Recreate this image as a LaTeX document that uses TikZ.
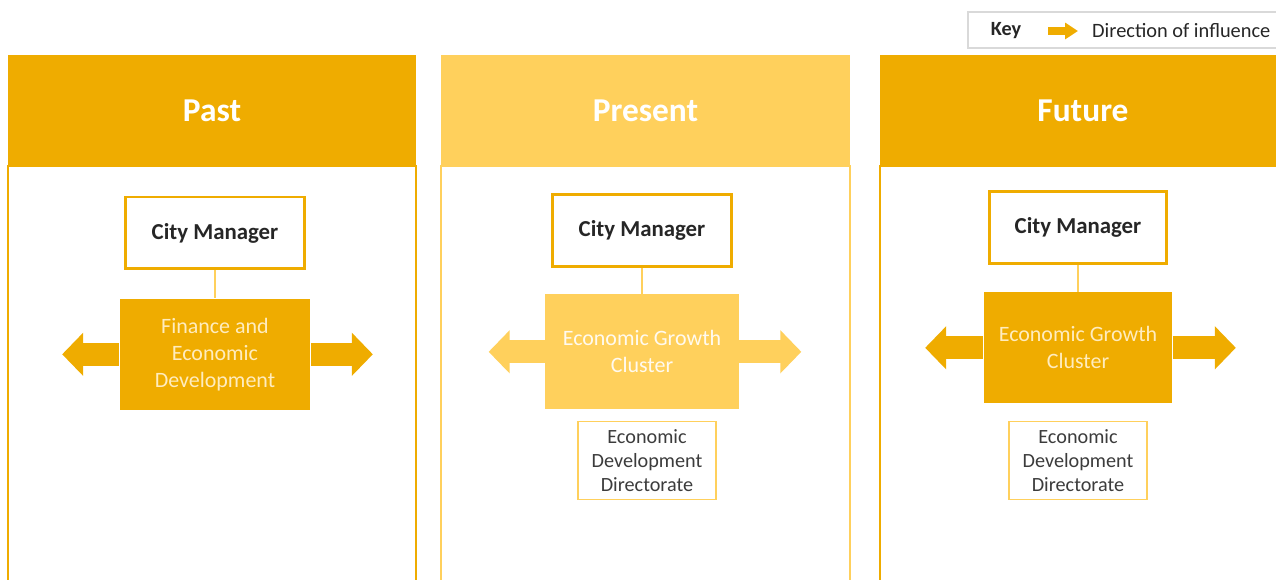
\documentclass[tikz,border=0pt]{standalone}
\usepackage{fontspec}
\setmainfont{Carlito}
\usepackage{tikz}
\usetikzlibrary{positioning}
\usetikzlibrary{arrows.meta}
\definecolor{gold}{RGB}{239,172,0}
\definecolor{lightgold}{RGB}{255,208,92}
\definecolor{cream}{RGB}{255,236,190}
\definecolor{txtgrey}{RGB}{38,38,38}
\tikzstyle{head} = [rectangle, inner sep=0pt, text=white, minimum height=2.22cm,
                font=\bfseries\fontsize{19}{22}\selectfont]
\tikzstyle{body} = [draw, line width=0.8pt]
\tikzstyle{mgr} = [rectangle, draw=gold, line width=1.7pt, fill=white, text=txtgrey,
                minimum width=3.6cm, minimum height=1.44cm, font=\bfseries\fontsize{13}{15}\selectfont]
\tikzstyle{unit} = [rectangle, align=center, inner sep=0pt, minimum width=3.82cm,
                minimum height=2.22cm, font=\fontsize{12.5}{15.3}\selectfont]
\tikzstyle{dir} = [rectangle, draw=lightgold, line width=0.8pt, fill=white, text=txtgrey!90!white,
                align=center, minimum width=2.76cm, minimum height=1.56cm,
                font=\fontsize{11.5}{13.6}\selectfont]
\tikzstyle{link} = [draw=lightgold, line width=1pt]
\tikzstyle{infl} = [line width=0.46cm, -{Triangle[length=0.42cm,width=0.84cm]}]
\begin{document}
\begin{tikzpicture}[x=0.02cm, y=-0.02cm]
            \useasboundingbox (0,0) rectangle (1276,580);
            % key
            \draw[gray!30, line width=0.8pt] (968,12) rectangle (1300,48);
            \node[text=txtgrey, font=\bfseries\fontsize{11.5}{13}\selectfont](keylbl) at (1006,31){Key};
            \node[text=txtgrey, anchor=west, font=\fontsize{11.6}{13}\selectfont](keytxt) at (1086,31){Direction of influence};
            \coordinate (keyS) at (1048,31);
            \coordinate (keyE) at (1078,31);
            \draw[gold, line width=0.16cm, -{Triangle[length=0.26cm,width=0.32cm]}] (keyS) -- (keyE);
            % columns
            \draw[body, gold] (8,166) rectangle (416,600);
            \draw[body, lightgold] (441,166) rectangle (850,600);
            \draw[body, gold] (880,166) rectangle (1300,600);
            \node[head, fill=gold, minimum width=8.16cm](past) at (212,110.5){Past};
            \node[head, fill=lightgold, minimum width=8.18cm](present) at (645.5,110.5){Present};
            \node[head, fill=gold, minimum width=8.12cm](future) at (1083,110.5){Future};
            % past
            \node[mgr](mgra) at (215,233){City Manager};
            \node[unit, fill=gold, text=cream, below=0.56cm of mgra](fin){Finance and\\ Economic\\ Development};
            \coordinate[left=1.14cm of fin.west](finL);
            \coordinate[right=1.24cm of fin.east](finR);
            \path[link] (mgra) -- (fin);
            \draw[infl, gold] (fin.west) -- (finL);
            \draw[infl, gold] (fin.east) -- (finR);
            % present
            \node[mgr](mgrb) at (642,230.5){City Manager};
            \node[unit, fill=lightgold, text=white!90!lightgold, minimum width=3.88cm, minimum height=2.3cm,
                below=0.52cm of mgrb](club){Economic Growth\\ Cluster};
            \node[dir, below=0.22cm of club, xshift=0.1cm](dirb){Economic\\ Development\\ Directorate};
            \coordinate[left=1.12cm of club.west](clubL);
            \coordinate[right=1.24cm of club.east](clubR);
            \path[link] (mgrb) -- (club);
            \draw[infl, lightgold] (club.west) -- (clubL);
            \draw[infl, lightgold] (club.east) -- (clubR);
            % future
            \node[mgr, minimum width=3.56cm](mgrc) at (1078,227.5){City Manager};
            \node[unit, fill=gold, text=cream, minimum width=3.78cm, below=0.54cm of mgrc](cluc){Economic Growth\\ Cluster};
            \node[dir, below=0.34cm of cluc](dirc){Economic\\ Development\\ Directorate};
            \coordinate[left=1.16cm of cluc.west](clucL);
            \coordinate[right=1.26cm of cluc.east](clucR);
            \path[link] (mgrc) -- (cluc);
            \draw[infl, gold] (cluc.west) -- (clucL);
            \draw[infl, gold] (cluc.east) -- (clucR);
        \end{tikzpicture}
\end{document}
